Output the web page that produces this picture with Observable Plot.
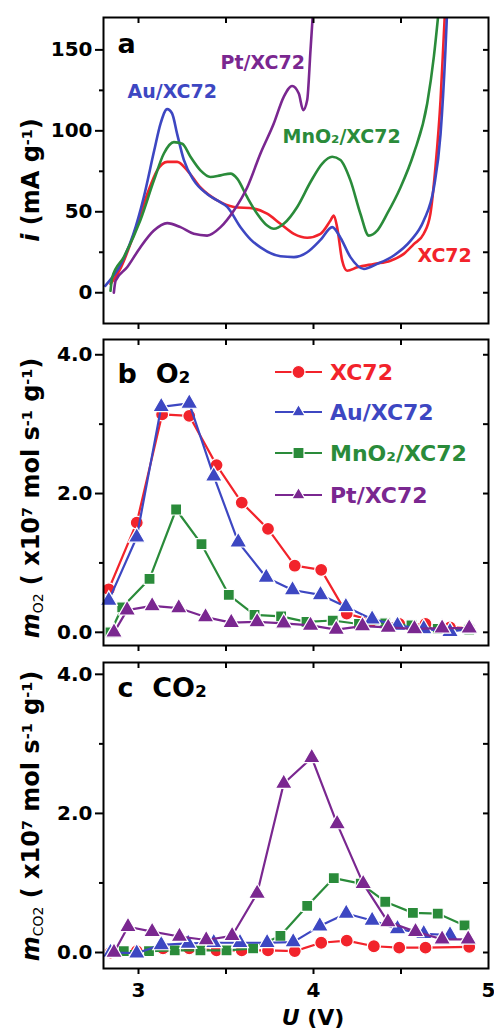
<!DOCTYPE html>
<html><head><meta charset="utf-8">
<script src="https://cdn.jsdelivr.net/npm/d3@7"></script>
<script src="https://cdn.jsdelivr.net/npm/@observablehq/plot@0.6"></script>
<style>
html,body{margin:0;padding:0;background:#fff;}
#chart{position:relative;width:494px;height:1033px;overflow:hidden;font-family:"DejaVu Sans";}
#chart svg{position:absolute;left:0;overflow:visible;}
</style></head><body><div id="chart"></div>
<script>
// ---- series metadata ----
const seriesNames = ["XC72", "Au/XC72", "MnO₂/XC72", "Pt/XC72"];
const seriesColors = ["#f2232b", "#3d47c2", "#2a8b3a", "#7a2790"];
const seriesSymbols = ["circle", "triangle", "square", "triangle"];

// ---- panel a: current i (mA g-1) vs U (V) ----
const aXC72 = [[2.84,5.4],[2.9,15.7],[2.973,36],[3.05,61],[3.107,75.6],[3.164,80.8],[3.221,80.8],[3.278,75.6],[3.354,65],[3.45,57],[3.545,53],[3.659,52],[3.735,48.8],[3.811,42.6],[3.888,36.4],[3.964,34],[4.04,36.4],[4.097,44.6],[4.116,47.7],[4.135,40.5],[4.164,19.8],[4.192,13.6],[4.25,15.7],[4.345,17.8],[4.44,19.8],[4.516,24],[4.573,30],[4.63,36.4],[4.668,48.8],[4.697,77.7],[4.726,119],[4.745,160],[4.752,175]];
const aAu = [[2.81,4.3],[2.9,17.8],[2.97,36],[3.03,59],[3.09,88],[3.126,104.5],[3.164,113.4],[3.192,110.7],[3.221,98],[3.259,82],[3.316,69.4],[3.392,61],[3.45,57],[3.507,53],[3.583,40.5],[3.64,33],[3.697,28],[3.811,22.5],[3.888,22],[3.964,25],[4.04,32.6],[4.107,40.5],[4.154,34],[4.211,22],[4.288,14.7],[4.364,17.8],[4.459,23],[4.554,32],[4.63,44.6],[4.688,65],[4.726,98],[4.754,150],[4.764,175]];
const aMnO2 = [[2.84,1.2],[2.85,9.5],[2.916,22],[3.01,44.6],[3.088,69.4],[3.145,86],[3.202,93],[3.25,92],[3.297,84],[3.354,75.6],[3.411,71.5],[3.469,72.5],[3.526,73.6],[3.564,70.5],[3.621,59],[3.678,48.8],[3.735,41.5],[3.773,39.5],[3.83,42.6],[3.907,53],[3.983,68.4],[4.05,79.8],[4.107,84],[4.154,82],[4.211,69.4],[4.268,48.8],[4.316,35.3],[4.364,38.4],[4.421,48.8],[4.497,65],[4.573,86],[4.65,117],[4.688,146],[4.716,175]];
const aPt = [[2.859,0],[2.869,7.4],[2.935,15.7],[3.01,28],[3.088,38.4],[3.164,43],[3.24,40.5],[3.316,36.4],[3.392,35.3],[3.469,40.5],[3.545,50.8],[3.621,65],[3.697,86],[3.773,104.5],[3.83,121],[3.878,127.7],[3.916,123],[3.941,112.8],[3.964,119],[3.983,150],[3.998,175]];

// ---- panel b: O2 evolution rate (x10^7 mol s-1 g-1) ----
const bXC72 = [[2.83,0.62],[2.99,1.58],[3.135,3.14],[3.29,3.12],[3.446,2.41],[3.59,1.87],[3.74,1.49],[3.893,0.96],[4.044,0.90],[4.19,0.27],[4.335,0.17],[4.49,0.12],[4.64,0.12],[4.78,0.07],[4.89,0.06]];
const bAu = [[2.83,0.46],[2.99,1.37],[3.13,3.25],[3.29,3.30],[3.43,2.25],[3.57,1.30],[3.73,0.79],[3.88,0.61],[4.04,0.54],[4.185,0.37],[4.335,0.19],[4.48,0.10],[4.63,0.05],[4.78,0.01],[4.89,0.05]];
const bMnO2 = [[2.84,0.0],[2.907,0.36],[3.063,0.77],[3.215,1.77],[3.36,1.27],[3.516,0.54],[3.663,0.25],[3.815,0.23],[3.96,0.15],[4.11,0.17],[4.26,0.12],[4.41,0.13],[4.56,0.10],[4.71,0.05],[4.89,0.04]];
const bPt = [[2.86,0.0],[2.935,0.32],[3.078,0.38],[3.23,0.35],[3.383,0.22],[3.53,0.14],[3.678,0.15],[3.83,0.13],[3.983,0.10],[4.13,0.04],[4.28,0.09],[4.427,0.07],[4.577,0.05],[4.735,0.06],[4.89,0.06]];

// ---- panel c: CO2 evolution rate (x10^7 mol s-1 g-1) ----
const cXC72 = [[2.84,0.0],[2.99,0.02],[3.14,0.06],[3.29,0.06],[3.446,0.03],[3.59,0.03],[3.74,0.03],[3.893,0.02],[4.044,0.14],[4.19,0.17],[4.345,0.09],[4.49,0.07],[4.64,0.07],[4.89,0.08]];
const cAu = [[2.84,0.0],[2.99,-0.01],[3.13,0.11],[3.284,0.13],[3.43,0.14],[3.58,0.14],[3.735,0.14],[3.884,0.15],[4.036,0.38],[4.187,0.56],[4.335,0.46],[4.48,0.34],[4.63,0.27],[4.78,0.25]];
const cMnO2 = [[2.916,0.02],[3.06,0.02],[3.207,0.03],[3.354,0.03],[3.503,0.03],[3.655,0.06],[3.811,0.24],[3.964,0.67],[4.116,1.07],[4.27,0.99],[4.41,0.73],[4.568,0.57],[4.71,0.56],[4.863,0.39]];
const cPt = [[2.86,0.0],[2.94,0.37],[3.078,0.30],[3.234,0.23],[3.387,0.18],[3.535,0.24],[3.678,0.85],[3.83,2.43],[3.99,2.80],[4.135,1.85],[4.284,0.99],[4.425,0.44],[4.583,0.30],[4.735,0.19],[4.884,0.19]];

// ---- ticks ----
const xTicks = [3, 3.5, 4, 4.5];
const xTickLabels = [3, 4, 5];
const aMajor = [0, 50, 100, 150];
const aMinor = [25, 75, 125];
const mMajor = [0, 2, 4];
const mMinor = [1, 3];

const FONT = "DejaVu Sans";
const baseStyle = {fontFamily: FONT, fontWeight: "bold", fontSize: "20px", background: "transparent", overflow: "visible", color: "black"};
const fmt1 = d3.format(".1f");
const fmt0 = d3.format("d");

function frameMarks(major, minor, fmt, bottomLabels) {
  const all = [...major, ...minor].sort((a, b) => a - b);
  const m = [
    Plot.frame({stroke: "black", strokeWidth: 2}),
    Plot.axisY(major, {anchor: "left", tickSize: 8, tickPadding: 3, label: null, strokeWidth: 2, tickFormat: fmt, fontSize: 20, fontWeight: "bold"}),
    Plot.axisY(minor, {anchor: "left", tickSize: 4, label: null, strokeWidth: 2, fill: "none"}),
    Plot.axisY(all, {anchor: "right", tickSize: 6, dx: -6, label: null, strokeWidth: 2, fill: "none"}),
    Plot.axisX(xTicks, {anchor: "top", tickSize: 5, dy: 5, label: null, strokeWidth: 2, fill: "none"}),
    Plot.axisX(xTicks, {anchor: "bottom", tickSize: 6, label: null, strokeWidth: 2, fill: "none"})
  ];
  if (bottomLabels) m.push(Plot.axisX(xTickLabels, {anchor: "bottom", tickSize: 0, tickPadding: 14, label: null, tickFormat: fmt0, fontSize: 20, fontWeight: "bold"}));
  return m;
}

const chart = document.getElementById("chart");

// ---------- Panel a ----------
const aSeries = [aXC72, aAu, aMnO2, aPt];
const plotA = Plot.plot({
  width: 494, height: 331, marginTop: 17, marginBottom: 8, marginLeft: 103, marginRight: 6,
  x: {domain: [2.8, 5]}, y: {domain: [-19, 170]},
  style: baseStyle,
  marks: [
    ...aSeries.map((s, k) => Plot.line(s, {x: d => d[0], y: d => d[1], stroke: seriesColors[k], strokeWidth: 2.6, curve: "monotone-x", clip: true})),
    Plot.text([seriesNames[3]], {x: 3.469, y: 141.9, text: d => d, textAnchor: "start", lineAnchor: "middle", fill: seriesColors[3], fontSize: 19, fontWeight: "bold"}),
    Plot.text([seriesNames[1]], {x: 2.937, y: 123.9, text: d => d, textAnchor: "start", lineAnchor: "middle", fill: seriesColors[1], fontSize: 19, fontWeight: "bold"}),
    Plot.text([seriesNames[2]], {x: 3.823, y: 96, text: d => d, textAnchor: "start", lineAnchor: "middle", fill: seriesColors[2], fontSize: 19, fontWeight: "bold"}),
    Plot.text([seriesNames[0]], {x: 4.594, y: 22.9, text: d => d, textAnchor: "start", lineAnchor: "middle", fill: seriesColors[0], fontSize: 19, fontWeight: "bold"}),
    Plot.text(["a"], {x: 2.88, y: 147.9, text: d => d, textAnchor: "start", lineAnchor: "bottom", fill: "black", fontSize: 27, fontWeight: "bold"}),
    ...frameMarks(aMajor, aMinor, fmt0, false)
  ]
});
plotA.style.top = "0px";
chart.appendChild(plotA);

const symbolR = {circle: 6.5, square: 6.2, triangle: 6.3};
function markerMarks(series, rows) {
  const marks = [];
  rows.forEach((s, k) => {
    const idx = series[k];
    marks.push(Plot.line(s, {x: d => d[0], y: d => d[1], stroke: seriesColors[idx], strokeWidth: 2.2}));
    marks.push(Plot.dot(s, {x: d => d[0], y: d => d[1], symbol: seriesSymbols[idx], fill: seriesColors[idx], r: symbolR[seriesSymbols[idx]], stroke: "white", strokeWidth: 1.2}));
  });
  return marks;
}

// ---------- Panel b ----------
const plotB = Plot.plot({
  width: 494, height: 322, marginTop: 8, marginBottom: 8, marginLeft: 103, marginRight: 6,
  x: {domain: [2.8, 5]}, y: {domain: [-0.19, 4.22]},
  style: baseStyle,
  marks: [
    ...markerMarks([0, 2, 1, 3], [bXC72, bMnO2, bAu, bPt]),
    Plot.text(["b\u00a0\u00a0O₂"], {x: 2.88, y: 3.6, text: d => d, textAnchor: "start", lineAnchor: "bottom", fill: "black", fontSize: 27, fontWeight: "bold"}),
    ...frameMarks(mMajor, mMinor, fmt1, false)
  ]
});
plotB.style.top = "331px";
chart.appendChild(plotB);

// ---------- Panel c ----------
const plotC = Plot.plot({
  width: 494, height: 380, marginTop: 9, marginBottom: 65, marginLeft: 103, marginRight: 6,
  x: {domain: [2.8, 5]}, y: {domain: [-0.23, 4.17]},
  style: baseStyle,
  marks: [
    ...markerMarks([0, 2, 1, 3], [cXC72, cMnO2, cAu, cPt]),
    Plot.text(["c\u00a0\u00a0CO₂"], {x: 2.88, y: 3.67, text: d => d, textAnchor: "start", lineAnchor: "bottom", fill: "black", fontSize: 27, fontWeight: "bold"}),
    ...frameMarks(mMajor, mMinor, fmt1, true)
  ]
});
plotC.style.top = "653px";
chart.appendChild(plotC);

// ---------- axis titles (mixed styles) ----------
function title(svg, transform, parts, size) {
  const t = d3.select(svg).append("text")
    .attr("transform", transform).attr("text-anchor", "middle")
    .style("font-family", FONT).style("font-size", size + "px").style("font-weight", "bold").attr("fill", "black");
  parts.forEach(p => {
    const ts = t.append("tspan").text(p.t);
    if (p.i) ts.style("font-style", "italic");
    if (p.sup) ts.attr("dy", "-0.5em").style("font-size", "60%");
    if (p.sub) ts.attr("dy", "0.3em").style("font-size", "58%").style("font-weight", "normal");
    if (p.back) ts.attr("dy", p.back);
  });
  return t;
}
title(plotA, "translate(39,180) rotate(-90)", [
  {t: "i", i: true}, {t: " (mA g"}, {t: "-1", sup: true}, {t: ")", back: "0.3em"}
], 24);
const mTitle = (gas) => [
  {t: "m", i: true}, {t: gas, sub: true}, {t: " ( x10", back: "-0.18em"}, {t: "7", sup: true},
  {t: " mol s", back: "0.3em"}, {t: "-1", sup: true}, {t: " g", back: "0.3em"}, {t: "-1", sup: true}, {t: ")", back: "0.3em"}
];
title(plotB, "translate(39,167) rotate(-90)", mTitle("O2"), 24);
title(plotC, "translate(39,163) rotate(-90)", mTitle("CO2"), 24);
title(plotC, "translate(313,372)", [{t: "U", i: true}, {t: " (V)"}], 22);

// ---------- legend in panel b ----------
const legendRows = [0, 1, 2, 3];
const lg = d3.select(plotB).append("g");
const rowY = [41, 81, 122, 164];
const triangleType = d3.symbolTriangle2 || d3.symbolTriangle;
const symType = {circle: d3.symbolCircle, square: d3.symbolSquare, triangle: triangleType};
legendRows.forEach((k, j) => {
  const y = rowY[j];
  const r = symbolR[seriesSymbols[k]];
  lg.append("line").attr("x1", 275).attr("x2", 322).attr("y1", y).attr("y2", y).attr("stroke", seriesColors[k]).attr("stroke-width", 2.2);
  lg.append("path").attr("d", d3.symbol(symType[seriesSymbols[k]], r * r * Math.PI)()).attr("transform", `translate(298.5,${y})`)
    .attr("fill", seriesColors[k]).attr("stroke", "white").attr("stroke-width", 1.2);
  lg.append("text").attr("x", 330).attr("y", y).attr("dy", "0.36em").attr("text-anchor", "start").text(seriesNames[k])
    .attr("fill", seriesColors[k]).style("font-family", FONT).style("font-size", "22px").style("font-weight", "bold");
});
</script>
</body></html>
